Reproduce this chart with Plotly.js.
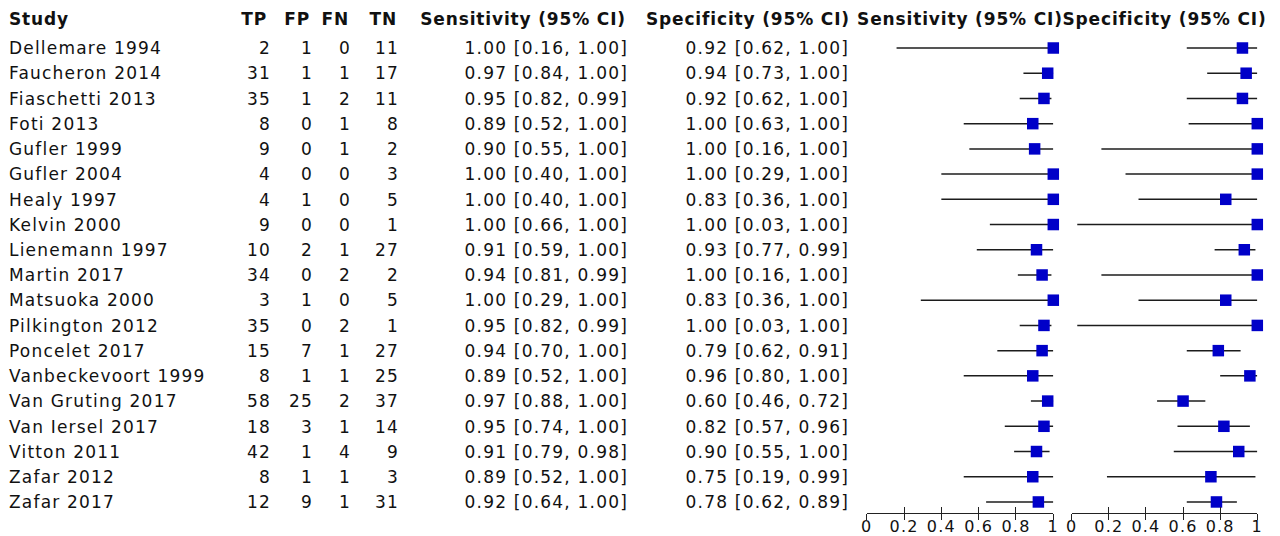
<!DOCTYPE html>
<html>
<head>
<meta charset="utf-8">
<script src="https://cdn.plot.ly/plotly-3.0.1.min.js"></script>
<style>
  html, body { margin: 0; padding: 0; background: #fff; }
  #chart { width: 1280px; height: 536px; }
  #chart text { letter-spacing: 1.2px; }
  #chart text[style*="bold"] { letter-spacing: 0.85px; }
</style>
</head>
<body>
<div id="chart"></div>
<script>
// Per-study 2x2 counts and accuracy estimates
const study = ["Dellemare 1994", "Faucheron 2014", "Fiaschetti 2013", "Foti 2013", "Gufler 1999",
  "Gufler 2004", "Healy 1997", "Kelvin 2000", "Lienemann 1997", "Martin 2017", "Matsuoka 2000",
  "Pilkington 2012", "Poncelet 2017", "Vanbeckevoort 1999", "Van Gruting 2017", "Van Iersel 2017",
  "Vitton 2011", "Zafar 2012", "Zafar 2017"];
const tp = [2, 31, 35, 8, 9, 4, 4, 9, 10, 34, 3, 35, 15, 8, 58, 18, 42, 8, 12];
const fp = [1, 1, 1, 0, 0, 0, 1, 0, 2, 0, 1, 0, 7, 1, 25, 3, 1, 1, 9];
const fn = [0, 1, 2, 1, 1, 0, 0, 0, 1, 2, 0, 2, 1, 1, 2, 1, 4, 1, 1];
const tn = [11, 17, 11, 8, 2, 3, 5, 1, 27, 2, 5, 1, 27, 25, 37, 14, 9, 3, 31];
const sens   = [1.00, 0.97, 0.95, 0.89, 0.90, 1.00, 1.00, 1.00, 0.91, 0.94, 1.00, 0.95, 0.94, 0.89, 0.97, 0.95, 0.91, 0.89, 0.92];
const sensLo = [0.16, 0.84, 0.82, 0.52, 0.55, 0.40, 0.40, 0.66, 0.59, 0.81, 0.29, 0.82, 0.70, 0.52, 0.88, 0.74, 0.79, 0.52, 0.64];
const sensHi = [1.00, 1.00, 0.99, 1.00, 1.00, 1.00, 1.00, 1.00, 1.00, 0.99, 1.00, 0.99, 1.00, 1.00, 1.00, 1.00, 0.98, 1.00, 1.00];
const spec   = [0.92, 0.94, 0.92, 1.00, 1.00, 1.00, 0.83, 1.00, 0.93, 1.00, 0.83, 1.00, 0.79, 0.96, 0.60, 0.82, 0.90, 0.75, 0.78];
const specLo = [0.62, 0.73, 0.62, 0.63, 0.16, 0.29, 0.36, 0.03, 0.77, 0.16, 0.36, 0.03, 0.62, 0.80, 0.46, 0.57, 0.55, 0.19, 0.62];
const specHi = [1.00, 1.00, 1.00, 1.00, 1.00, 1.00, 1.00, 1.00, 0.99, 1.00, 1.00, 1.00, 0.91, 1.00, 0.72, 0.96, 1.00, 0.99, 0.89];
const headers = ["Study", "TP", "FP", "FN", "TN", "Sensitivity (95% CI)", "Specificity (95% CI)"];
const forestHeaders = ["Sensitivity (95% CI)", "Specificity (95% CI)"];
const tickVals = [0, 0.2, 0.4, 0.6, 0.8, 1];
const tickText = ["0", "0.2", "0.4", "0.6", "0.8", "1"];

// Page geometry (pixels)
const W = 1280, H = 536;
const rowTop = 48, rowPitch = 25.22, headerY = 21, axisY = 513;
const textDrop = 2; // text baseline nudge relative to the row centre
const rowOf = y => (y - rowTop) / rowPitch;
const sensPx = [866.7, 1053.3], specPx = [1071.7, 1257.3];

const FONT = "DejaVu Sans";
const INK = "#111";
const rows = study.map((_, i) => i);
const textRows = rows.map(i => i + textDrop / rowPitch);
const ci = (e, lo, hi) => e.toFixed(2) + " [" + lo.toFixed(2) + ", " + hi.toFixed(2) + "]";

function textCol(xPix, labels, pos, y, bold) {
  return {
    type: "scatter", mode: "text", xaxis: "x3", yaxis: "y",
    x: labels.map(() => xPix), y: y || textRows,
    text: labels, textposition: pos, hoverinfo: "skip", showlegend: false,
    cliponaxis: false,
    textfont: { family: FONT, size: 17, color: INK, weight: bold ? "bold" : "normal" }
  };
}

// Study table
const hy = [rowOf(headerY)];
const traces = [
  textCol(9, study, "middle right"),
  textCol(271, tp.map(String), "middle left"),
  textCol(313, fp.map(String), "middle left"),
  textCol(351, fn.map(String), "middle left"),
  textCol(399, tn.map(String), "middle left"),
  textCol(628, rows.map(i => ci(sens[i], sensLo[i], sensHi[i])), "middle left"),
  textCol(849, rows.map(i => ci(spec[i], specLo[i], specHi[i])), "middle left"),
  textCol(9, [headers[0]], "middle right", hy, true),
  textCol(267, [headers[1]], "middle left", hy, true),
  textCol(310, [headers[2]], "middle left", hy, true),
  textCol(349, [headers[3]], "middle left", hy, true),
  textCol(397, [headers[4]], "middle left", hy, true),
  textCol(626, [headers[5]], "middle left", hy, true),
  textCol(850, [headers[6]], "middle left", hy, true),
  textCol((sensPx[0] + sensPx[1]) / 2, [forestHeaders[0]], "middle center", hy, true),
  textCol((specPx[0] + specPx[1]) / 2, [forestHeaders[1]], "middle center", hy, true)
];

// Forest panels: CI whiskers then point estimates
function ciSegments(lo, hi) {
  const x = [], y = [];
  rows.forEach(i => { x.push(lo[i], hi[i], null); y.push(i, i, null); });
  return { x, y };
}
function forest(axis, est, lo, hi) {
  const seg = ciSegments(lo, hi);
  return [
    { type: "scatter", mode: "lines", xaxis: axis, yaxis: "y", x: seg.x, y: seg.y,
      line: { color: "#1c1c1c", width: 1.5 }, hoverinfo: "skip", showlegend: false, cliponaxis: false },
    { type: "scatter", mode: "markers", xaxis: axis, yaxis: "y", x: est, y: rows,
      marker: { symbol: "square", size: 11.5, color: "#0000C8", line: { width: 0 } },
      hoverinfo: "skip", showlegend: false, cliponaxis: false }
  ];
}
traces.push(...forest("x", sens, sensLo, sensHi));
traces.push(...forest("x2", spec, specLo, specHi));
// empty traces so the upper tick-mark axes get drawn
traces.push({ type: "scatter", mode: "lines", xaxis: "x4", yaxis: "y", x: [null], y: [null], showlegend: false, hoverinfo: "skip" });
traces.push({ type: "scatter", mode: "lines", xaxis: "x5", yaxis: "y", x: [null], y: [null], showlegend: false, hoverinfo: "skip" });

const axPos = 1 - axisY / H;
function forestAxis(px) {
  return {
    domain: [px[0] / W, px[1] / W], range: [0, 1], anchor: "free", position: axPos,
    showline: true, linecolor: "#222", linewidth: 1,
    ticks: "outside", ticklen: 6, tickwidth: 1, tickcolor: "#222",
    ticklabelstandoff: -7,
    tickmode: "array", tickvals: tickVals, ticktext: tickText,
    tickfont: { family: FONT, size: 16, color: INK },
    showgrid: false, zeroline: false, fixedrange: true
  };
}
function upperTicks(base) {
  return {
    overlaying: base, range: [0, 1], anchor: "free", position: axPos,
    showline: false, ticks: "inside", ticklen: 6, tickwidth: 1, tickcolor: "#222",
    tickmode: "array", tickvals: tickVals, showticklabels: false,
    showgrid: false, zeroline: false, fixedrange: true
  };
}

const layout = {
  width: W, height: H,
  margin: { l: 0, r: 0, t: 0, b: 0, pad: 0 },
  paper_bgcolor: "#fff", plot_bgcolor: "rgba(0,0,0,0)",
  showlegend: false,
  xaxis: forestAxis(sensPx),
  xaxis2: forestAxis(specPx),
  xaxis3: { domain: [0, 1], range: [0, W], anchor: "y", visible: false, fixedrange: true },
  xaxis4: upperTicks("x"),
  xaxis5: upperTicks("x2"),
  yaxis: { domain: [0, 1], range: [rowOf(H), rowOf(0)], visible: false, fixedrange: true, anchor: "x3" }
};

Plotly.newPlot("chart", traces, layout, { staticPlot: true, displayModeBar: false });
</script>
</body>
</html>
